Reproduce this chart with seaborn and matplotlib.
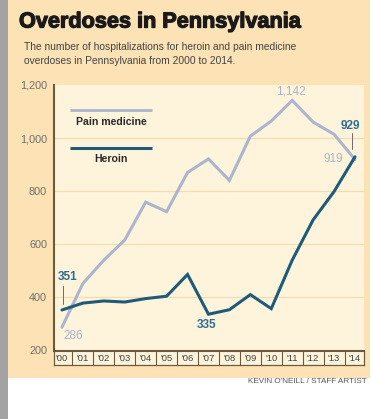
import matplotlib
matplotlib.use("Agg")
import matplotlib.pyplot as plt
import matplotlib.patheffects as pe
import seaborn as sns
import pandas as pd
from matplotlib.patches import Rectangle

years = list(range(2000, 2015))
year_labels = ["'00", "'01", "'02", "'03", "'04", "'05", "'06", "'07", "'08", "'09", "'10", "'11", "'12", "'13", "'14"]
pain_medicine = [286, 451, 539, 615, 758, 722, 870, 921, 840, 1007, 1064, 1142, 1060, 1014, 919]
heroin = [351, 377, 385, 381, 394, 403, 485, 335, 352, 409, 356, 539, 691, 798, 929]
y_ticks = [200, 400, 600, 800, 1000, 1200]
y_tick_labels = ["200", "400", "600", "800", "1,000", "1,200"]

W, H = 371, 419
OUTER = "#fce2b4"
CREAM = "#fef4dc"
PAIN_C = "#abb5cd"
HER_C = "#1f5a78"
HER_TXT = "#2e6d92"
PAIN_TXT = "#a9b3cb"
GRID_C = "#f3dcb0"
FONT = "Liberation Sans"

sns.set_theme(style="white")
plt.rcParams['font.family'] = ['DejaVu Sans']

fig = plt.figure(figsize=(W / 100, H / 100), dpi=100)
fig.patch.set_facecolor("white")

def px(x0, y0, x1, y1):
    return [x0 / W, 1 - y1 / H, (x1 - x0) / W, (y1 - y0) / H]

# background panels
fig.add_artist(Rectangle((8 / W, 1 - 378 / H), (370 - 8) / W, 378 / H,
                         transform=fig.transFigure, facecolor=OUTER, edgecolor="none", zorder=0))
fig.add_artist(Rectangle((0, 0), 8 / W, 1, transform=fig.transFigure,
                         facecolor="#a3a3a3", edgecolor="none", zorder=0))

fig.text(19 / W, 1 - 22 / H, "Overdoses in Pennsylvania", fontsize=15.6, fontweight="bold",
         color="#1a1a1a", va="center", ha="left", family=FONT,
         path_effects=[pe.withStroke(linewidth=0.9, foreground="#1a1a1a")])
fig.text(24 / W, 1 - 47 / H, "The number of hospitalizations for heroin and pain medicine",
         fontsize=7.4, color="#444444", va="center", ha="left", family=FONT)
fig.text(24 / W, 1 - 61 / H, "overdoses in Pennsylvania from 2000 to 2014.",
         fontsize=7.4, color="#444444", va="center", ha="left", family=FONT)
fig.text(367 / W, 1 - 381 / H, "KEVIN O'NEILL / STAFF ARTIST", fontsize=5.9,
         color="#555555", va="center", ha="right", family=FONT)

df = pd.DataFrame({
    "idx": list(range(len(years))) * 2,
    "value": pain_medicine + heroin,
    "series": ["Pain medicine"] * len(years) + ["Heroin"] * len(years),
})

ax = fig.add_axes(px(54, 85, 364, 350))
ax.set_facecolor(CREAM)
sns.lineplot(data=df, x="idx", y="value", hue="series",
             palette={"Pain medicine": PAIN_C, "Heroin": HER_C},
             linewidth=2.2, legend=False, ax=ax)
for ln in ax.lines:
    ln.set_solid_joinstyle("miter")
    if ln.get_color() == HER_C:
        ln.set_zorder(3)
xmin, xmax = -0.38, 14.43
ax.set_xlim(xmin, xmax)
ax.set_ylim(200, 1200)
ax.set_yticks(y_ticks)
ax.set_yticklabels(y_tick_labels, fontsize=7.8, color="#6e6e6e", family=FONT)
ax.tick_params(axis="y", length=0, pad=5)
ax.set_xticks([])
ax.set_xlabel("")
ax.set_ylabel("")
for v in [400, 600, 800, 1000]:
    ax.axhline(v, color=GRID_C, lw=0.9, zorder=1)
for s in ["top", "right", "bottom"]:
    ax.spines[s].set_visible(False)
ax.spines["left"].set_color("#6b5a40")
ax.spines["left"].set_linewidth(1.5)

# legend drawn manually
ax.plot([0.38, 4.3], [1105, 1105], color=PAIN_C, lw=2, solid_capstyle="butt")
ax.text(2.34, 1059, "Pain medicine", fontsize=7.6, fontweight="bold", color="#2a2a2a",
        ha="center", va="center", family=FONT)
ax.plot([0.38, 4.3], [964, 964], color=HER_C, lw=2.2, solid_capstyle="butt")
ax.text(2.34, 919, "Heroin", fontsize=7.6, fontweight="bold", color="#2a2a2a",
        ha="center", va="center", family=FONT)

# annotations
ax.text(-0.2, 474, "351", fontsize=8.5, fontweight="bold", color=HER_TXT, ha="left", va="center",
        family=FONT)
ax.plot([0.03, 0.03], [443, 375], color="#555555", lw=0.6)
ax.text(0.53, 251, "286", fontsize=8.5, color=PAIN_TXT, ha="center", va="center",
        family=FONT)
ax.text(6.91, 296, "335", fontsize=8.5, fontweight="bold", color=HER_TXT, ha="center", va="center",
        family=FONT)
ax.text(10.92, 1177, "1,142", fontsize=8.5, color=PAIN_TXT, ha="center", va="center",
        family=FONT)
ax.text(13.78, 1044, "929", fontsize=8.5, fontweight="bold", color=HER_TXT, ha="center", va="center",
        family=FONT)
ax.plot([13.84, 13.84], [1020, 957], color="#555555", lw=0.6)
ax.text(13.45, 922, "919", fontsize=8.5, color=PAIN_TXT, ha="right", va="center",
        family=FONT)

# x tick band
bx = fig.add_axes(px(54, 351, 364, 365))
bx.set_facecolor(CREAM)
bx.set_xlim(xmin, xmax)
bx.set_ylim(0, 1)
bx.set_xticks([])
bx.set_yticks([])
for s in bx.spines.values():
    s.set_color("#6b5a40")
    s.set_linewidth(0.9)
bx.spines["top"].set_linewidth(1.5)
for i in range(len(years) - 1):
    bx.axvline(i + 0.5, color="#6b5a40", lw=0.8)
for i, lab in enumerate(year_labels):
    bx.text(i, 0.45, lab, fontsize=6.8, color="#444444", ha="center", va="center",
            family=FONT)

fig.savefig("out.png", dpi=100, facecolor="white")
